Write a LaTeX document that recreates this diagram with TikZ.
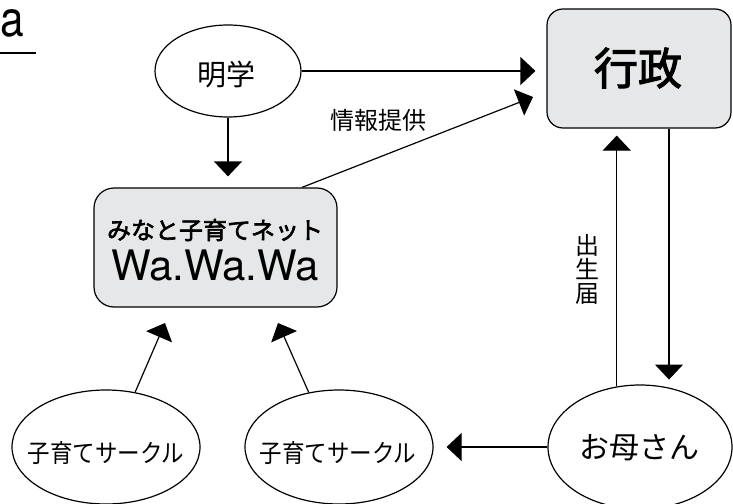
\documentclass[tikz,border=0pt]{standalone}
\usepackage{fontspec}
\setmainfont{TeX Gyre Heros}
\newfontfamily\jp{Noto Sans CJK JP}
\newfontfamily\jpmed[FakeBold=2.5]{Noto Sans CJK JP}
\usetikzlibrary{arrows.meta,shapes.geometric}
\definecolor{boxgray}{RGB}{230,231,232}
\tikzset{
	arr/.style={-{Triangle[length=15pt,width=28pt]}},
	oval/.style={ellipse,draw,inner sep=0pt,minimum width=#1},
	panel/.style={draw,fill=boxgray,rounded corners=16pt,minimum height=119pt,minimum width=#1},
	jptext/.style={font=\jp\fontsize{#1}{#1}\selectfont,inner sep=0pt},
	jpmedtext/.style={font=\jpmed\fontsize{#1}{#1}\selectfont,inner sep=0pt},
}
\newcommand{\circletext}{\scalebox{0.9}[1]{子育てサークル}}
\begin{document}
\begin{tikzpicture}[x=1pt,y=-1pt,line width=1.2pt]
		%\draw[gray!50, thin, step=50] (0,0) grid (733,503);
		\useasboundingbox (0,0) rectangle (733,503);
		\node[anchor=base east,inner sep=0pt] (titlea) at (25,37) {\fontsize{50}{50}\selectfont\scalebox{0.85}[1]{a}};
		\draw (0,53) coordinate (ul1) -- (36,53) coordinate (ul2);

		\node[panel=184pt] (gyosei) at (639,68.5) {};
		\node[jpmedtext=44] (gyoseit) at (638,68) {行政};
		\node[panel=243pt,rounded corners=20pt] (wabox) at (215.5,247.5) {};
		\node[jpmedtext=24] (wajp) at (215,230) {みなと子育てネット};
		\node[anchor=base,inner sep=0pt,font=\fontsize{42}{42}\selectfont] (walatin) at (215,280) {Wa.Wa.Wa};

		\node[oval=146pt,minimum height=92pt] (meigaku) at (228,71) {};
		\node[jptext=29] (meigakut) at (226,75) {明学};
		\node[oval=184pt,minimum height=124pt] (mother) at (640,447) {};
		\node[jptext=30] (mothert) at (639,448) {お母さん};
		\node[oval=188pt,minimum height=114pt] (circlea) at (106,447) {};
		\node[jptext=25] (circleat) at (106,453) {\circletext};
		\node[oval=188pt,minimum height=114pt] (circleb) at (339,447) {};
		\node[jptext=25] (circlebt) at (338,453) {\circletext};

		\coordinate (infotip) at (533,97);
		\coordinate (tipa) at (165,323);
		\coordinate (tipb) at (278,323);

		\draw[arr,shorten >=11pt] (meigaku.east) -- (meigaku.east -| gyosei.west);
		\draw[arr,shorten >=11pt] (meigaku.south) -- (meigaku.south |- wabox.north);
		\draw[arr] ([xshift=86.5pt]wabox.north) -- (infotip);
		\node[jptext=24] (info) at (378,120) {情報提供};
		\draw[arr,shorten >=7pt] (mother.111) -- (mother.111 |- gyosei.south);
		\draw[arr,shorten >=8pt] ([xshift=30pt]gyosei.south) -- ([xshift=30pt]gyosei.south |- mother.64);
		\node[jptext=24,align=center] (birth) at (587,269) {出\\[0pt]生\\[0pt]届};
		\draw[arr,shorten >=13pt] (mother.west) -- (circleb.east);
		\draw[arr] (circlea.62) -- (tipa);
		\draw[arr] (circleb.119) -- (tipb);
\end{tikzpicture}
\end{document}
